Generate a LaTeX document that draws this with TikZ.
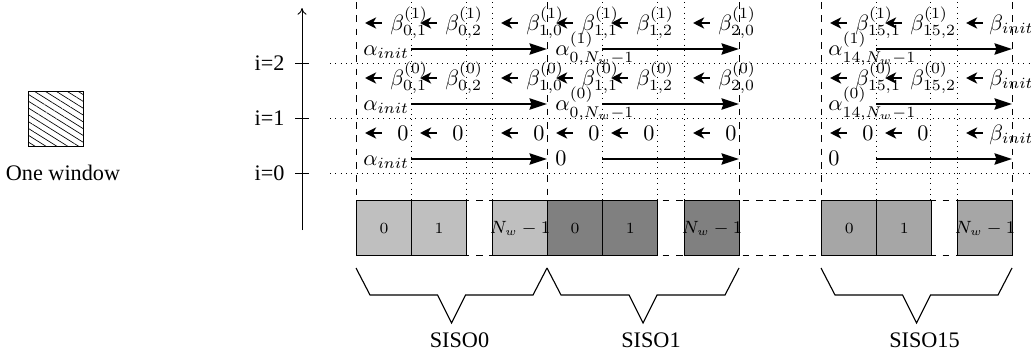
\documentclass[tikz,border=0pt]{standalone}
\usepackage[no-math]{fontspec}
\setmainfont{Liberation Serif}
\usetikzlibrary{arrows.meta,patterns.meta}
\colorlet{sisoA}{black!25}
\colorlet{sisoB}{black!50}
\colorlet{sisoC}{black!35}
\begin{document}
\begin{tikzpicture}[x=0.45pt,y=-0.45pt,
  lbl/.style={anchor=base west,inner sep=0pt},
  barrow/.style={{Stealth[length=5pt,width=5pt,inset=1.4pt]}-,line width=1.2pt},
  aarrow/.style={-{Stealth[length=7.8pt,width=5pt,inset=0.8pt]},line width=1.3pt},
  win/.style={draw,line width=0.6pt,minimum size=24.75pt,inner sep=0pt,anchor=north west},
  wlab/.style={inner sep=0pt,font=\fontsize{7.6}{9}\selectfont},
  wnum/.style={inner sep=0pt,font=\scriptsize},
  bracepath/.style={line width=0.5pt},
]
\useasboundingbox (0,0) rectangle (1031,356);

% legend
\node[win,pattern={Lines[angle=-32,distance=2.6pt,line width=0.3pt]}] (onewin) at (28,91) {};
\node (onewinlab) at (63,173) {One window};

% axis
\coordinate (axb) at (302,230);
\coordinate (axt) at (302,8);
\draw[-{To[length=3pt,width=4pt]}] (axb) -- (axt);
\foreach \yy/\t in {63/2,118/1,173/0} {
  \draw (295,\yy) -- (309,\yy);
  \node[anchor=east,inner sep=0pt] (ilab\t) at (285,\yy) {i=\t};
}

% grid
\foreach \yy in {63,118,173} \draw[dotted] (330,\yy) -- (1031,\yy);
\foreach \xx in {411,466,492,602,657,684,876,930,957} \draw[dotted] (\xx,2) -- (\xx,200);
\foreach \xx in {356,547,739,821,1012} \draw[dashed] (\xx,2) -- (\xx,200);
\draw[dashed] (356,200) -- (1012,200);
\draw[dashed] (356,255) -- (1012,255);

% windows
\node[win,fill=sisoA] (a0) at (356,200) {};
\node[win,fill=sisoA] (a1) at (411,200) {};
\node[win,fill=sisoA] (aN) at (492,200) {};
\node[win,fill=sisoB] (b0) at (547,200) {};
\node[win,fill=sisoB] (b1) at (602,200) {};
\node[win,fill=sisoB] (bN) at (684,200) {};
\node[win,fill=sisoC] (c0) at (821,200) {};
\node[win,fill=sisoC] (c1) at (876,200) {};
\node[win,fill=sisoC] (cN) at (957,200) {};
\foreach \w in {a,b,c} {
  \node[wnum] at (\w0.center) {$0$};
  \node[wnum] at (\w1.center) {$1$};
  \node[wlab] at (\w N.center) {$N_w-1$};
}

% arrows (all bands)
\foreach \yb in {63,118,173} {
  \foreach \L in {356,411,492,547,602,684,821,876,957}
    \draw[barrow] (\L+9,\yb-40) -- (\L+26,\yb-40);
  \draw[aarrow] (411,\yb-14) -- (547,\yb-14);
  \draw[aarrow] (602,\yb-14) -- (739,\yb-14);
  \draw[aarrow] (876,\yb-14) -- (1012,\yb-14);
  \node[lbl] at (363,\yb-7.5) {$\alpha_{init}$};
}

% bands i=2 and i=1
\foreach \yb/\s in {63/1,118/0} {
  \node[lbl] at (390,\yb-33) {$\beta^{(\s)}_{0,1}$};
  \node[lbl] at (445,\yb-33) {$\beta^{(\s)}_{0,2}$};
  \node[lbl] at (526,\yb-33) {$\beta^{(\s)}_{1,0}$};
  \node[lbl] at (581,\yb-33) {$\beta^{(\s)}_{1,1}$};
  \node[lbl] at (636,\yb-33) {$\beta^{(\s)}_{1,2}$};
  \node[lbl] at (718,\yb-33) {$\beta^{(\s)}_{2,0}$};
  \node[lbl] at (855,\yb-33) {$\beta^{(\s)}_{15,1}$};
  \node[lbl] at (910,\yb-33) {$\beta^{(\s)}_{15,2}$};
  \node[lbl] at (989,\yb-33) {$\beta_{init}$};
  \node[lbl] at (555,\yb-7.5) {$\alpha^{(\s)}_{0,N_w-1}$};
  \node[lbl] at (828,\yb-7.5) {$\alpha^{(\s)}_{14,N_w-1}$};
}

% band i=0
\foreach \L in {356,411,492,547,602,684,821,876}
  \node[lbl] at (\L+41,140) {$0$};
\node[lbl] at (989,140) {$\beta_{init}$};
\node[lbl] at (555,165.5) {$0$};
\node[lbl] at (828,165.5) {$0$};

% braces
\foreach \a/\b/\n/\lab in {356/547/s0/SISO0,547/739/s1/SISO1,821/1012/s15/SISO15} {
  \pgfmathsetmacro\m{(\a+\b)/2}
  \draw[bracepath] (\a,268) -- (\a+14,295) -- (\m-14,295) -- (\m,323)
     -- (\m+14,295) -- (\b-14,295) -- (\b,268);
  \node (\n) at (\m+8,340) {\lab};
}
\end{tikzpicture}
\end{document}
